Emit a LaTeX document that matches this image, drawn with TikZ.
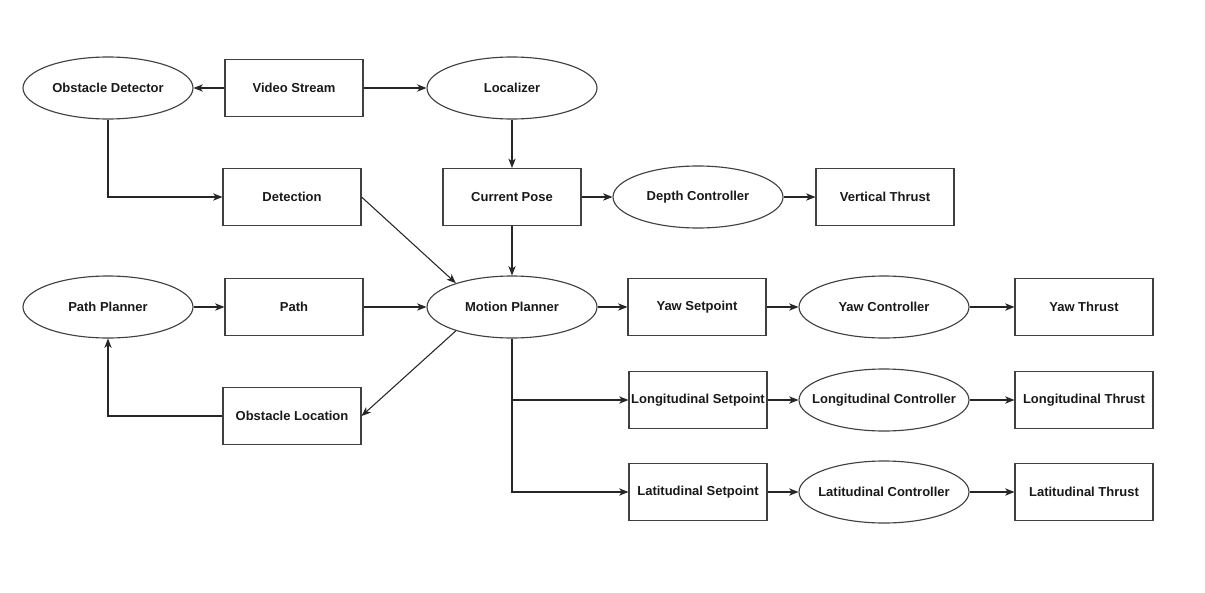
\documentclass[tikz,border=0pt]{standalone}
\usepackage{fontspec}
\setmainfont{Liberation Sans}
\usetikzlibrary{shapes.geometric,arrows.meta}
\newcommand{\zw}[1]{\makebox[0pt][c]{#1}}
\begin{document}
\begin{tikzpicture}[x=0.75pt,y=-0.75pt,
  every node/.style={font=\fontsize{9.75pt}{11pt}\selectfont\bfseries, text=black!90},
  box/.style={draw=black!75, line width=0.85pt, rectangle, minimum width=103.5pt, minimum height=42.75pt, inner sep=0pt},
  oval/.style={draw=black!75, line width=0.85pt, ellipse, minimum width=127.5pt, minimum height=46.5pt, inner sep=0pt},
  conn/.style={draw=black!85, line width=0.8pt, -{Stealth[length=7pt,width=5.5pt,inset=2pt]}}]
\useasboundingbox (0,0) rectangle (1205,592);
% top row
\node[oval] (od) at (108,88) {\zw{Obstacle Detector}};
\node[box] (vs) at (294,88) {Video Stream};
\node[oval] (loc) at (512,88) {\zw{Localizer}};
% second row
\node[box] (det) at (292,197) {Detection};
\node[box] (cp) at (512,197) {Current Pose};
\node[oval] (dc) at (698,197) {\zw{Depth Controller}};
\node[box] (vt) at (885,197) {Vertical Thrust};
% third row
\node[oval] (pp) at (108,307) {\zw{Path Planner}};
\node[box] (path) at (294,307) {Path};
\node[oval] (mp) at (512,307) {\zw{Motion Planner}};
\node[box] (ysp) at (697,307) {Yaw Setpoint};
\node[oval] (yc) at (884,307) {\zw{Yaw Controller}};
\node[box] (yt) at (1084,307) {Yaw Thrust};
% fourth row
\node[box] (ol) at (292,416) {Obstacle Location};
\node[box] (lsp) at (698,400) {Longitudinal Setpoint};
\node[oval] (lc) at (884,400) {\zw{Longitudinal Controller}};
\node[box] (lt) at (1084,400) {Longitudinal Thrust};
% fifth row
\node[box] (tsp) at (698,492) {Latitudinal Setpoint};
\node[oval] (tc) at (884,492) {\zw{Latitudinal Controller}};
\node[box] (tt) at (1084,492) {Latitudinal Thrust};
% connectors
\draw[conn] (vs) -- (od);
\draw[conn] (vs) -- (loc);
\draw[conn] (od.south) |- (det.west);
\draw[conn] (loc.south) -- (cp.north);
\draw[conn] (det.east) -- (mp.157);
\draw[conn] (cp) -- (dc);
\draw[conn] (dc) -- (vt);
\draw[conn] (cp.south) -- (mp.north);
\draw[conn] (pp) -- (path);
\draw[conn] (path) -- (mp);
\draw[conn] (mp.203) -- (ol.east);
\draw[conn] (ol.west) -| (pp.south);
\draw[conn] (mp) -- (ysp);
\draw[conn] (ysp) -- (yc);
\draw[conn] (yc) -- (yt);
\draw[conn] (mp.south) |- (lsp.west);
\draw[conn] (mp.south) |- (tsp.west);
\draw[conn] (lsp) -- (lc);
\draw[conn] (lc) -- (lt);
\draw[conn] (tsp) -- (tc);
\draw[conn] (tc) -- (tt);
\end{tikzpicture}
\end{document}
